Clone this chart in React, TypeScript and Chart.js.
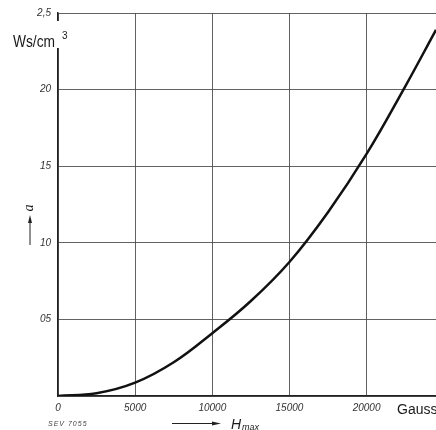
import { useEffect, useRef } from "react";
import { Chart, registerables } from "chart.js";

Chart.register(...registerables);

// H_max in Gauss and the hysteresis energy a in Ws/cm³
const hValues = [0, 2500, 5000, 7500, 10000, 12500, 15000, 17500, 20000, 22500, 24500];
const aValues = [0, 0.018, 0.087, 0.22, 0.41, 0.62, 0.875, 1.2, 1.58, 2.02, 2.39];

const xTicks = [0, 5000, 10000, 15000, 20000];
const xTickLabels = ["0", "5000", "10000", "15000", "20000"];
const yTicks = [0, 0.5, 1, 1.5, 2, 2.5];
const yTickLabels = ["", "05", "10", "15", "20", "2,5"];

const xMax = 24500;
const yMax = 2.5;

const annotations = {
  id: "annotations",
  afterDraw(chart: any) {
    const { ctx, chartArea } = chart;
    const left = chartArea.left;
    ctx.save();
    // gap in the axis behind the unit
    ctx.fillStyle = "#ffffff";
    ctx.fillRect(left - 3, 21, 6, 27);
    ctx.fillStyle = "#1a1a1a";
    ctx.textBaseline = "alphabetic";
    ctx.textAlign = "left";
    ctx.save();
    ctx.translate(13, 47);
    ctx.scale(0.86, 1);
    ctx.font = "16px 'Liberation Sans', Arial, sans-serif";
    ctx.fillText("Ws/cm", 0, 0);
    ctx.restore();
    ctx.font = "10px 'Liberation Sans', Arial, sans-serif";
    ctx.fillText("3", 62, 39);

    // rotated "a" with arrow
    ctx.save();
    ctx.translate(33, 208);
    ctx.rotate(-Math.PI / 2);
    ctx.font = "italic 14px 'Liberation Serif', serif";
    ctx.textAlign = "center";
    ctx.fillText("a", 0, 0);
    ctx.restore();
    ctx.strokeStyle = "#222";
    ctx.lineWidth = 1;
    ctx.beginPath();
    ctx.moveTo(30, 245);
    ctx.lineTo(30, 220);
    ctx.stroke();
    ctx.beginPath();
    ctx.moveTo(30, 215);
    ctx.lineTo(28, 223);
    ctx.lineTo(32, 223);
    ctx.closePath();
    ctx.fillStyle = "#222";
    ctx.fill();

    // Gauss
    ctx.fillStyle = "#1a1a1a";
    ctx.font = "14px 'Liberation Sans', Arial, sans-serif";
    ctx.textAlign = "left";
    ctx.fillText("Gauss", 397, 414);

    // SEV 7055
    ctx.font = "italic 7px 'Liberation Sans', Arial, sans-serif";
    (ctx as any).letterSpacing = "1px";
    ctx.fillStyle = "#444";
    ctx.fillText("SEV 7055", 48, 426);
    (ctx as any).letterSpacing = "0px";

    // arrow to H_max
    ctx.strokeStyle = "#222";
    ctx.beginPath();
    ctx.moveTo(172, 423.5);
    ctx.lineTo(214, 423.5);
    ctx.stroke();
    ctx.beginPath();
    ctx.moveTo(221, 423.5);
    ctx.lineTo(212, 421.5);
    ctx.lineTo(212, 425.5);
    ctx.closePath();
    ctx.fillStyle = "#222";
    ctx.fill();
    ctx.fillStyle = "#1a1a1a";
    ctx.font = "italic 14px 'Liberation Sans', Arial, sans-serif";
    ctx.fillText("H", 231, 429);
    ctx.font = "italic 9px 'Liberation Sans', Arial, sans-serif";
    ctx.fillText("max", 242, 430);
    ctx.restore();
  },
};

export default function App() {
  const ref = useRef<HTMLCanvasElement | null>(null);

  useEffect(() => {
    if (!ref.current) return;
    const chart = new Chart(ref.current, {
      type: "line",
      data: {
        datasets: [
          {
            data: hValues.map((h, i) => ({ x: h, y: aValues[i] })),
            borderColor: "#111111",
            borderWidth: 2.5,
            pointRadius: 0,
            tension: 0.4,
            fill: false,
          },
        ],
      },
      options: {
        responsive: false,
        animation: false,
        layout: { padding: { top: 11, right: 0, left: 0, bottom: 0 } },
        plugins: { legend: { display: false }, tooltip: { enabled: false } },
        scales: {
          x: {
            type: "linear",
            min: 0,
            max: xMax,
            afterBuildTicks: (scale: any) => {
              scale.ticks = xTicks.map((v) => ({ value: v }));
            },
            afterFit: (scale: any) => {
              scale.height = 34;
            },
            grid: { color: "rgba(70,70,70,0.85)", lineWidth: 1, drawTicks: false },
            border: { display: true, color: "#222", width: 1.5 },
            ticks: {
              padding: 6,
              color: "#333",
              font: { family: "'Liberation Sans', Arial, sans-serif", size: 10, style: "italic" },
              callback: (v: any) => {
                const i = xTicks.indexOf(Number(v));
                return i >= 0 ? xTickLabels[i] : "";
              },
            },
          },
          y: {
            min: 0,
            max: yMax,
            afterBuildTicks: (scale: any) => {
              scale.ticks = yTicks.map((v) => ({ value: v }));
            },
            afterFit: (scale: any) => {
              scale.width = 58;
            },
            grid: { color: "rgba(70,70,70,0.85)", lineWidth: 1, drawTicks: false },
            border: { display: true, color: "#222", width: 1.5 },
            ticks: {
              padding: 7,
              color: "#333",
              font: { family: "'Liberation Sans', Arial, sans-serif", size: 10, style: "italic" },
              callback: (v: any) => {
                const i = yTicks.indexOf(Number(v));
                return i >= 0 ? yTickLabels[i] : "";
              },
            },
          },
        },
      },
      plugins: [annotations],
    });
    return () => chart.destroy();
  }, []);

  return (
    <div style={{ position: "fixed", left: 0, top: 0, width: 436, height: 430, background: "#fff" }}>
      <canvas ref={ref} width={436} height={430} style={{ width: 436, height: 430 }} />
    </div>
  );
}
